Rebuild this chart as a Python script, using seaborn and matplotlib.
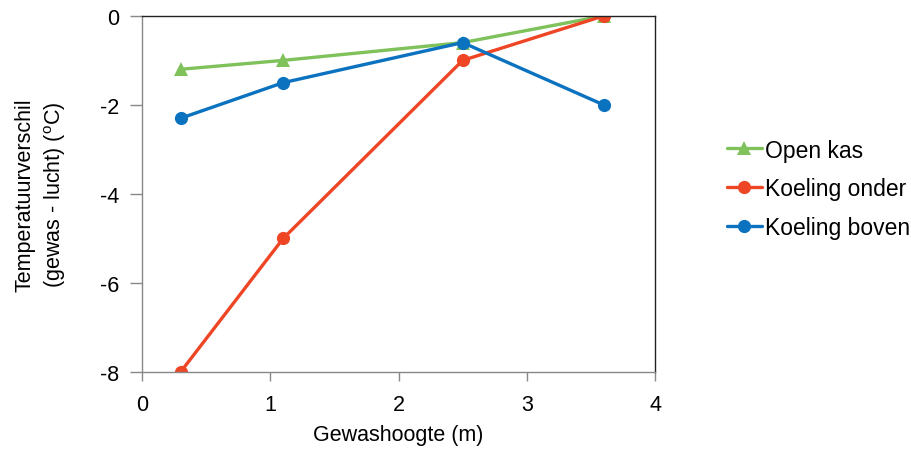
import matplotlib
matplotlib.use("Agg")
import matplotlib.pyplot as plt
import seaborn as sns
import pandas as pd

# Data
hoogte = [0.3, 1.1, 2.5, 3.6]
open_kas = [-1.2, -1.0, -0.6, 0.0]
koeling_onder = [-8.0, -5.0, -1.0, 0.0]
koeling_boven = [-2.3, -1.5, -0.6, -2.0]

series_names = ["Open kas", "Koeling onder", "Koeling boven"]
colors = ["#7fc15a", "#ee4525", "#0a72bf"]
markers = ["^", "o", "o"]

df = pd.concat(
    [
        pd.DataFrame({"hoogte": hoogte, "verschil": vals, "serie": name})
        for name, vals in zip(series_names, [open_kas, koeling_onder, koeling_boven])
    ],
    ignore_index=True,
)

sns.set_style("white")
plt.rcParams["font.family"] = ["Liberation Sans", "DejaVu Sans"]
plt.rcParams["mathtext.fontset"] = "custom"
plt.rcParams["mathtext.rm"] = "Liberation Sans"
plt.rcParams["text.color"] = "black"
plt.rcParams["axes.labelcolor"] = "black"
plt.rcParams["xtick.color"] = "black"
plt.rcParams["ytick.color"] = "black"

fs = 15.5

fig = plt.figure(figsize=(9.11, 4.56), dpi=100)
ax = fig.add_axes([0.156, 0.182, 0.563, 0.781])

sns.lineplot(
    data=df,
    x="hoogte",
    y="verschil",
    hue="serie",
    style="serie",
    hue_order=series_names,
    style_order=series_names,
    palette=colors,
    markers=markers,
    dashes=False,
    linewidth=2.4,
    markersize=9.5,
    markeredgewidth=0,
    ax=ax,
)

ax.set_xlim(0, 4)
ax.set_ylim(-8, 0)
ax.set_xticks([0, 1, 2, 3, 4])
ax.set_yticks([-8, -6, -4, -2, 0])
ax.set_yticklabels(["-8", "-6", "-4", "-2", "0"])
ax.tick_params(axis="both", labelsize=fs, width=1, color="#888888",
               direction="out", left=True, bottom=True)
ax.tick_params(axis="x", length=6.5, pad=9)
ax.tick_params(axis="y", length=8.5, pad=8)
for s in ["left", "bottom"]:
    ax.spines[s].set_color("#888888")
for s in ["top", "right"]:
    ax.spines[s].set_color("#222222")
for s in ax.spines.values():
    s.set_linewidth(1)

ax.set_xlabel("Gewashoogte (m)", fontsize=fs, labelpad=7)
ax.set_ylabel("Temperatuurverschil\n(gewas - lucht) ($\\mathregular{^{o}}$C)",
              fontsize=fs, labelpad=23, linespacing=1.35)

ax.legend(
    loc="center left",
    bbox_to_anchor=(1.123, 0.515),
    frameon=False,
    fontsize=16.5,
    handlelength=1.5,
    handletextpad=0.15,
    labelspacing=0.68,
    borderaxespad=0,
)
for ln in ax.get_legend().get_lines():
    ln.set_markersize(9.5)

fig.savefig("out.png", dpi=100)
